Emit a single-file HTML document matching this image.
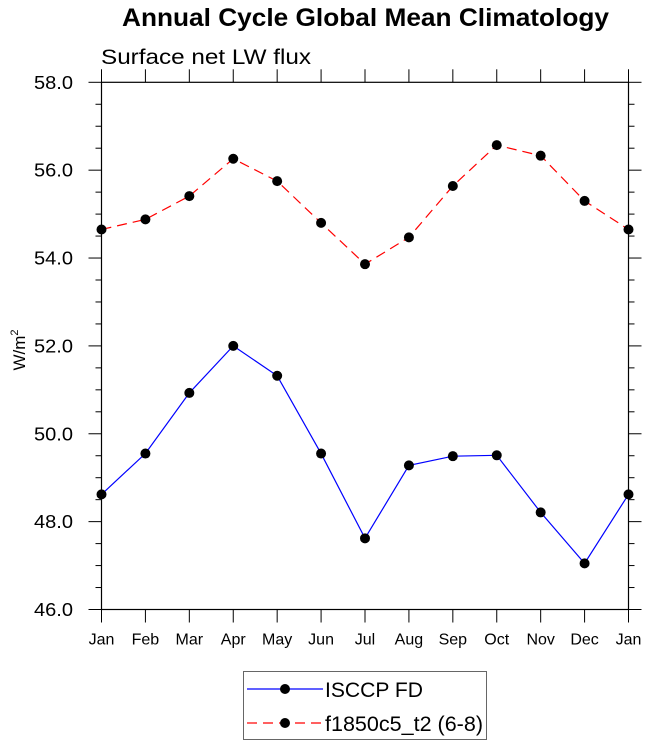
<!DOCTYPE html>
<html><head><meta charset="utf-8"><style>
body{margin:0;background:#fff;}
svg{display:block;font-family:"Liberation Sans",sans-serif;}
</style></head><body>
<svg id="c" width="648" height="747" viewBox="0 0 648 747">
<text x="122" y="26" font-size="25" font-weight="bold" textLength="487" lengthAdjust="spacingAndGlyphs">Annual Cycle Global Mean Climatology</text>
<text x="101" y="64" font-size="21" textLength="210" lengthAdjust="spacingAndGlyphs">Surface net LW flux</text>
<text transform="translate(25,350) rotate(-90)" font-size="17" text-anchor="middle">W/m<tspan dy="-7" font-size="11">2</tspan></text>
<g id="axes"></g><g id="series"></g>
<g>
<rect x="243.5" y="671.5" width="243" height="68" fill="#fff" stroke="#666" stroke-width="1"/>
<line x1="247" y1="689" x2="323" y2="689" stroke="#0000ff" stroke-width="1.2"/>
<circle cx="285" cy="689" r="5" fill="#000"/>
<text x="325" y="697" font-size="21" textLength="98" lengthAdjust="spacingAndGlyphs">ISCCP FD</text>
<line x1="247" y1="723" x2="323" y2="723" stroke="#ff0000" stroke-width="1.2" stroke-dasharray="10,6"/>
<circle cx="285" cy="723" r="5" fill="#000"/>
<text x="325" y="731" font-size="21" textLength="158" lengthAdjust="spacingAndGlyphs">f1850c5_t2 (6-8)</text>
</g>
</svg>
<script>
const months=["Jan","Feb","Mar","Apr","May","Jun","Jul","Aug","Sep","Oct","Nov","Dec","Jan"];
const isccp=[48.62,49.55,50.93,52.0,51.32,49.55,47.62,49.28,49.49,49.51,48.21,47.05,48.62];
const model=[54.65,54.88,55.41,56.26,55.75,54.8,53.86,54.47,55.64,56.57,56.33,55.3,54.65];
const yTicks=[46,48,50,52,54,56,58];
const X0=101.5,X1=628.5,Y0=82.3,Y1=609.5,YMIN=46,YMAX=58;
const xs=i=>X0+(X1-X0)*i/(months.length-1);
const ys=v=>Y1-(v-YMIN)/(YMAX-YMIN)*(Y1-Y0);
const NS="http://www.w3.org/2000/svg";
function mk(t,a,p){const e=document.createElementNS(NS,t);for(const k in a)e.setAttribute(k,a[k]);p.appendChild(e);return e;}
const ax=document.getElementById('axes');
const fr=mk('rect',{x:X0,y:Y0,width:X1-X0,height:Y1-Y0,fill:'none',stroke:'#000','stroke-width':1.2},ax);


for(let v=YMIN;v<=YMAX+1e-9;v+=0.5){
 const y=ys(v),maj=Math.abs(v-Math.round(v))<1e-9&&Math.round(v)%2===0,L=maj?13:6;
 mk('line',{x1:X0-L,y1:y,x2:X0,y2:y,stroke:'#000','stroke-width':1},ax);
 mk('line',{x1:X1,y1:y,x2:X1+L,y2:y,stroke:'#000','stroke-width':1},ax);
}
yTicks.forEach(v=>{const t=mk('text',{x:34,y:ys(v)+6.5,'font-size':18,textLength:39,lengthAdjust:'spacingAndGlyphs'},ax);t.textContent=v.toFixed(1);

});
months.forEach((m,i)=>{const x=xs(i);
 mk('line',{x1:x,y1:Y1,x2:x,y2:Y1+13,stroke:'#000','stroke-width':1},ax);
 mk('line',{x1:x,y1:Y0-13,x2:x,y2:Y0,stroke:'#000','stroke-width':1},ax);
 const t=mk('text',{x:x,y:Y1+35,'font-size':16,'text-anchor':'middle'},ax);t.textContent=m;
 
 });
const sg=document.getElementById('series');
function series(d,col,dash,name){
 const pl=mk('polyline',{points:d.map((v,i)=>xs(i)+','+ys(v)).join(' '),fill:'none',stroke:col,'stroke-width':1.2,'stroke-dasharray':dash},sg);
 
 
 d.forEach((v,i)=>{const c=mk('circle',{cx:xs(i),cy:ys(v),r:5,fill:'#000'},sg);
 
 });
}
series(model,'#ff0000','10,6','model');
series(isccp,'#0000ff','none','isccp');
</script>
</body></html>
